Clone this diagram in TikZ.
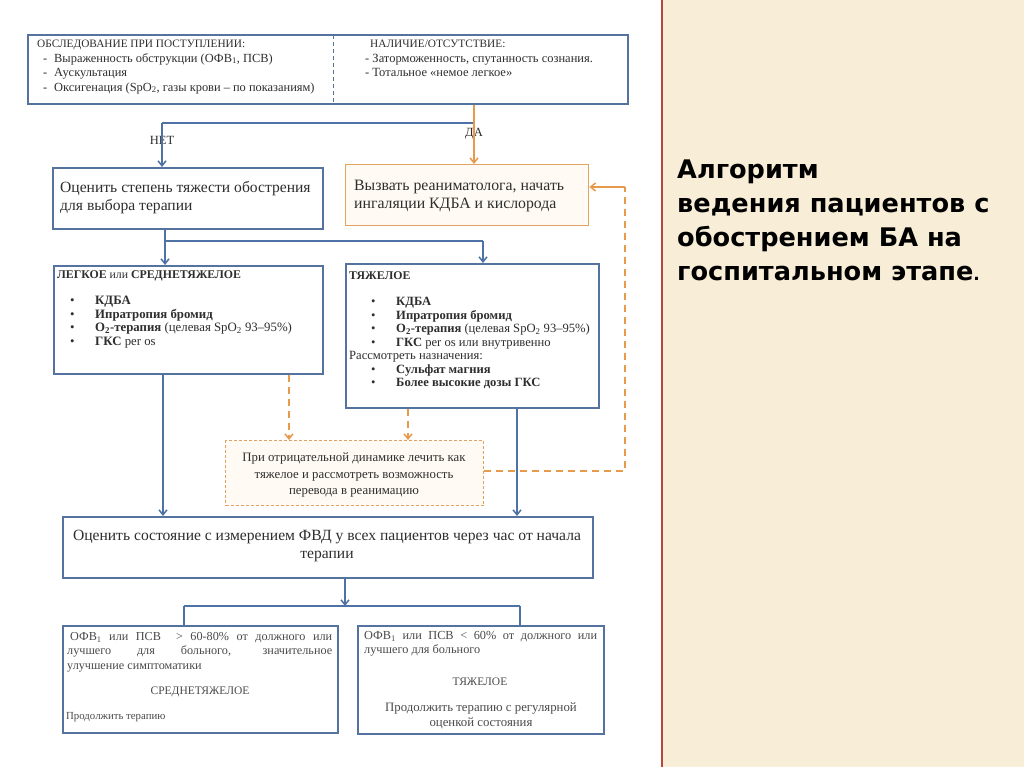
\documentclass[tikz,border=0pt]{standalone}
\usepackage{fontspec}
\setmainfont{Liberation Serif}
\newfontfamily\titlefont{DejaVu Sans}
\usetikzlibrary{arrows.meta,shadows}
\definecolor{bbord}{HTML}{55739F}
\definecolor{bline}{HTML}{4E72A6}
\definecolor{obord}{HTML}{E2A262}
\definecolor{oline}{HTML}{E89A4C}
\definecolor{ofill}{HTML}{FFFBF4}
\definecolor{beige}{HTML}{F8EDD6}
\definecolor{redline}{HTML}{B5473F}
\definecolor{txt}{HTML}{2E2E2E}
\definecolor{txtl}{HTML}{4A4A4A}
\tikzset{
  shad/.style={drop shadow={shadow xshift=1.5pt, shadow yshift=-1.5pt, fill=black!22, opacity=1}},
  bbox/.style={draw=bbord, line width=1.6pt, fill=white, anchor=north west, inner sep=0pt, shad},
  obox/.style={draw=obord, line width=1.4pt, fill=ofill, anchor=north west, inner sep=0pt},
  dbox/.style={draw=obord, line width=1pt, dash pattern=on 3pt off 2pt, fill=ofill, anchor=north west, inner sep=0pt},
  tx/.style={anchor=north west, inner sep=0pt, text=txt, align=left},
  barrow/.style={draw=bline, line width=1.5pt, -{Straight Barb[length=5pt,width=8pt]}},
  bln/.style={draw=bline, line width=1.5pt},
  oarrow/.style={draw=oline, line width=1.5pt, -{Straight Barb[length=5pt,width=8pt]}},
  odash/.style={draw=oline, line width=1.5pt, dash pattern=on 7pt off 5pt},
  odarrow/.style={draw=oline, line width=1.5pt, dash pattern=on 7pt off 5pt, -{Straight Barb[length=5pt,width=8pt]}},
  lbl/.style={inner sep=0pt, text=txt, font=\fontsize{12.5}{14}\selectfont},
}
\newcommand{\bul}{\makebox[25pt][l]{\textbullet}}
\newcommand{\dsh}{\hspace{6pt}\makebox[11pt][l]{-}}
\begin{document}
\begin{tikzpicture}[x=1pt,y=-1pt]
\useasboundingbox (0,0) rectangle (1024,767);
\fill[white] (0,0) rectangle (662,767);
\fill[beige] (662,0) rectangle (1024,767);
\draw[redline, line width=1.3pt] (662,0) -- (662,767);

% title
\node[anchor=north west, inner sep=0pt, align=left, font=\titlefont\bfseries\fontsize{25.6}{34}\selectfont, text=black] (title) at (677,160)
 {Алгоритм\\ведения пациентов с\\обострением БА на\\госпитальном этапе{\fontsize{17}{34}\selectfont.}};

% top box
\node[bbox, minimum width=600pt, minimum height=69pt] (top) at (27,34) {};
\draw[bbord, line width=1pt, dash pattern=on 4pt off 3pt] (333,35) -- (333,102);
\node[tx, font=\fontsize{12.4}{14.5}\selectfont] (topL) at (37,40)
 {{\fontsize{11.3}{14.5}\selectfont ОБСЛЕДОВАНИЕ ПРИ ПОСТУПЛЕНИИ:}\\
  \dsh Выраженность обструкции (ОФВ\textsubscript{1}, ПСВ)\\
  \dsh Аускультация\\
  \dsh Оксигенация (SpO\textsubscript{2}, газы крови – по показаниям)};
\node[tx, font=\fontsize{12.5}{14.5}\selectfont] (topR) at (365,40)
 {\hspace{5pt}{\fontsize{11.3}{14.5}\selectfont НАЛИЧИЕ/ОТСУТСТВИЕ:}\\
  - Заторможенность, спутанность сознания.\\
  - Тотальное «немое легкое»};

% assess / call boxes
\node[bbox, minimum width=270pt, minimum height=61pt] (assess) at (52,167) {};
\node[tx, font=\fontsize{15.6}{18}\selectfont] (assessT) at (60,181)
 {Оценить степень тяжести обострения\\для выбора терапии};
\node[obox, minimum width=243pt, minimum height=61pt] (call) at (345,164) {};
\node[tx, font=\fontsize{15.8}{18}\selectfont] (callT) at (354,180)
 {Вызвать реаниматолога, начать\\ингаляции КДБА и кислорода};

% severity boxes
\node[bbox, minimum width=269pt, minimum height=108pt] (mild) at (53,265) {};
\node[tx, font=\fontsize{12.8}{13.5}\selectfont] (mildT) at (57,270)
 {{\fontsize{11.8}{13.5}\selectfont\textbf{ЛЕГКОЕ} или \textbf{СРЕДНЕТЯЖЕЛОЕ}}\\[13pt]
  \hspace{13pt}\bul\textbf{КДБА}\\
  \hspace{13pt}\bul\textbf{Ипратропия бромид}\\
  \hspace{13pt}\bul\textbf{O\textsubscript{2}-терапия} (целевая SpO\textsubscript{2} 93–95\%)\\
  \hspace{13pt}\bul\textbf{ГКС} per os};
\node[bbox, minimum width=253pt, minimum height=144pt] (severe) at (345,263) {};
\node[tx, font=\fontsize{12.6}{13.5}\selectfont] (severeT) at (349,271)
 {{\fontsize{11.8}{13.5}\selectfont\textbf{ТЯЖЕЛОЕ}}\\[13pt]
  \hspace{22pt}\bul\textbf{КДБА}\\
  \hspace{22pt}\bul\textbf{Ипратропия бромид}\\
  \hspace{22pt}\bul\textbf{O\textsubscript{2}-терапия} (целевая SpO\textsubscript{2} 93–95\%)\\
  \hspace{22pt}\bul\textbf{ГКС} per os или внутривенно\\
  Рассмотреть назначения:\\
  \hspace{22pt}\bul\textbf{Сульфат магния}\\
  \hspace{22pt}\bul\textbf{Более высокие дозы ГКС}};

% dashed box
\node[dbox, minimum width=258pt, minimum height=65pt] (dyn) at (225,440) {};
\node[anchor=center, inner sep=0pt, align=center, text=txt, font=\fontsize{12.8}{16.5}\selectfont] (dynT) at (354,475)
 {При отрицательной динамике лечить как\\тяжелое и рассмотреть возможность\\перевода в реанимацию};

% main box
\node[bbox, minimum width=530pt, minimum height=61pt] (main) at (62,516) {};
\node[anchor=center, inner sep=0pt, align=center, text=txt, font=\fontsize{15.6}{17.5}\selectfont] (mainT) at (327,546)
 {Оценить состояние с измерением ФВД у всех пациентов через час от начала\\терапии};

% bottom boxes
\node[bbox, minimum width=275pt, minimum height=107pt] (resL) at (62,625) {};
\node[anchor=north west, inner sep=0pt, text=txtl, text width=265pt, align=justify, font=\fontsize{12.2}{14.5}\selectfont] (resLT) at (67,632)
 {\hspace{3pt}ОФВ\textsubscript{1} или ПСВ \ \textgreater{} 60-80\% от должного или\linebreak лучшего для больного, значительное\linebreak улучшение симптоматики};
\node[inner sep=0pt, text=txtl, font=\fontsize{11.5}{13}\selectfont] (resLM) at (200,692) {СРЕДНЕТЯЖЕЛОЕ};
\node[tx, text=txtl, font=\fontsize{10.8}{13}\selectfont] (resLB) at (66,712) {Продолжить терапию};

\node[bbox, minimum width=246pt, minimum height=108pt] (resR) at (357,625) {};
\node[anchor=north west, inner sep=0pt, text=txtl, text width=233pt, align=justify, font=\fontsize{12.3}{14.5}\selectfont] (resRT) at (364,631)
 {ОФВ\textsubscript{1} или ПСВ < 60\% от должного или\linebreak лучшего для больного};
\node[inner sep=0pt, text=txtl, font=\fontsize{11.5}{13}\selectfont] (resRM) at (480,682) {ТЯЖЕЛОЕ};
\node[anchor=center, inner sep=0pt, align=center, text=txtl, font=\fontsize{12.8}{14.5}\selectfont] (resRB) at (481,716)
 {Продолжить терапию с регулярной\\оценкой состояния};

% labels
\node[lbl] (net) at (162,140) {НЕТ};
\node[lbl] (da) at (474,134) {ДА};

% coordinates
\coordinate (jda) at (474,123);
\coordinate (jnet) at (162,123);
\coordinate (j2) at (165,241);
\coordinate (j3) at (483,241);
\coordinate (xm) at (163,0);
\coordinate (xs) at (517,0);
\coordinate (xdm) at (289,0);
\coordinate (xds) at (408,0);
\coordinate (cr1) at (625,471);
\coordinate (cr2) at (625,187);
\coordinate (jb) at (345,606);
\coordinate (jbl) at (184,606);
\coordinate (jbr) at (520,606);

% connectors
\draw[bln] (jda) -- (jnet);
\draw[barrow] (jnet) -- (assess.north -| jnet);
\draw[oarrow] (top.south -| jda) -- (call.north -| jda);
\draw[bln] (assess.south -| j2) -- (j2) -- (j3);
\draw[barrow] (j2) -- (mild.north -| j2);
\draw[barrow] (j3) -- (severe.north -| j3);
\draw[barrow] (mild.south -| xm) -- (main.north -| xm);
\draw[barrow] (severe.south -| xs) -- (main.north -| xs);
\draw[odarrow] (mild.south -| xdm) -- (dyn.north -| xdm);
\draw[odarrow] (severe.south -| xds) -- (dyn.north -| xds);
\draw[odash] (dyn.east |- cr1) -- (cr1) -- (cr2);
\draw[oarrow] (cr2) -- (call.east |- cr2);
\draw[barrow] (main.south -| jb) -- (jb);
\draw[bln] (jbl) -- (jbr);
\draw[bln] (jbl) -- (resL.north -| jbl);
\draw[bln] (jbr) -- (resR.north -| jbr);
\end{tikzpicture}
\end{document}
